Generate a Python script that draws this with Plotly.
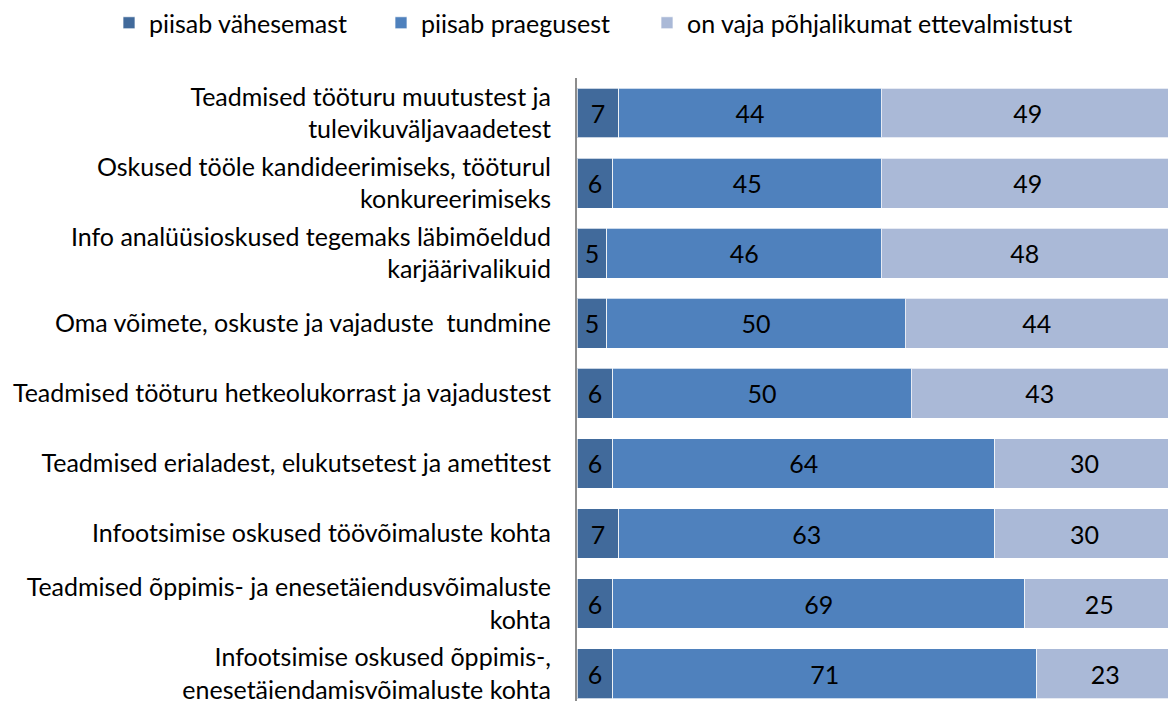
import plotly.graph_objects as go

categories = [
    "Teadmised tööturu muutustest ja<br>tulevikuväljavaadetest",
    "Oskused tööle kandideerimiseks, tööturul<br>konkureerimiseks",
    "Info analüüsioskused tegemaks läbimõeldud<br>karjäärivalikuid",
    "Oma võimete, oskuste ja vajaduste  tundmine",
    "Teadmised tööturu hetkeolukorrast ja vajadustest",
    "Teadmised erialadest, elukutsetest ja ametitest",
    "Infootsimise oskused töövõimaluste kohta",
    "Teadmised õppimis- ja enesetäiendusvõimaluste<br>kohta",
    "Infootsimise oskused õppimis-,<br>enesetäiendamisvõimaluste kohta",
]

piisab_vahesemast = [7, 6, 5, 5, 6, 6, 7, 6, 6]
piisab_praegusest = [44, 45, 46, 50, 50, 64, 63, 69, 71]
pohjalikum_ettevalmistus = [49, 49, 48, 44, 43, 30, 30, 25, 23]

series_names = [
    "piisab vähesemast",
    "piisab praegusest",
    "on vaja põhjalikumat ettevalmistust",
]
series_colors = ["#416A9B", "#4F81BD", "#AAB9D7"]

FONT = "Lato"
FS = 25
W, H = 1168, 704

# each series gets its own legend box so the three entries sit in one row
legend_ids = ["legend", "legend2", "legend3"]
legend_x_px = [109, 381, 647]

fig = go.Figure()
for name, vals, color, lid in zip(
    series_names,
    [piisab_vahesemast, piisab_praegusest, pohjalikum_ettevalmistus],
    series_colors,
    legend_ids,
):
    fig.add_trace(
        go.Bar(
            name=name,
            y=categories,
            x=vals,
            orientation="h",
            legend=lid,
            marker=dict(color=color, line=dict(color="rgba(255,255,255,0.7)", width=1)),
            text=[str(v) for v in vals],
            textposition="inside",
            insidetextanchor="middle",
            textangle=0,
            textfont=dict(family=FONT, size=FS, color="#000000"),
        )
    )

legend_common = dict(
    orientation="h",
    xref="container",
    yref="container",
    xanchor="left",
    yanchor="middle",
    y=1 - 23 / H,
    itemwidth=30,
    bgcolor="rgba(0,0,0,0)",
    font=dict(family=FONT, size=FS, color="#000000"),
)

fig.update_layout(
    barmode="stack",
    bargap=0.29,
    width=W,
    height=H,
    margin=dict(l=577, r=0, t=78, b=0),
    plot_bgcolor="white",
    paper_bgcolor="white",
    font=dict(family=FONT, size=FS, color="#000000"),
    uniformtext=dict(minsize=FS, mode="show"),
    showlegend=True,
    legend=dict(x=legend_x_px[0] / W, **legend_common),
    legend2=dict(x=legend_x_px[1] / W, **legend_common),
    legend3=dict(x=legend_x_px[2] / W, **legend_common),
)

fig.update_xaxes(
    range=[0, 99],
    showgrid=False,
    zeroline=False,
    showticklabels=False,
    showline=False,
    ticks="",
)

fig.update_yaxes(
    categoryorder="array",
    categoryarray=categories,
    range=[8.39, -0.5],
    showgrid=False,
    zeroline=False,
    showline=True,
    linecolor="#8C8C8C",
    linewidth=2,
    ticks="",
    ticklabelstandoff=19,
    tickfont=dict(family=FONT, size=FS, color="#000000"),
)

fig.write_html("out.html")
